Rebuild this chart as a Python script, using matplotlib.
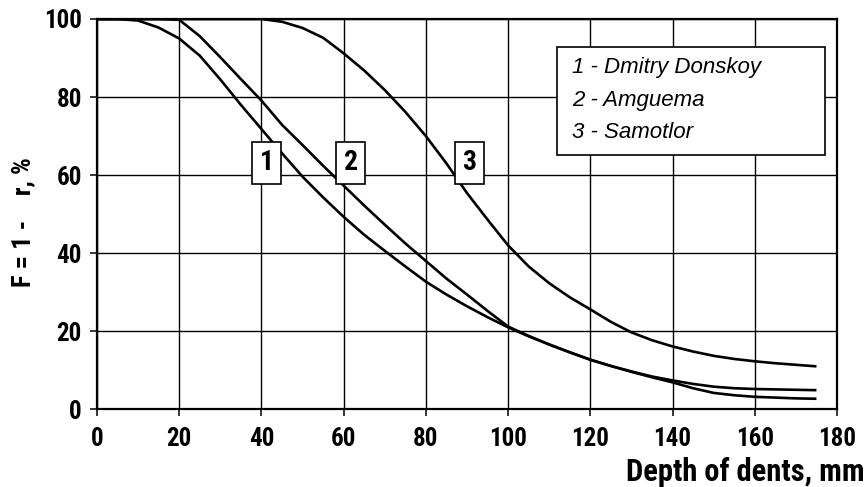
import numpy as np
import matplotlib
matplotlib.use("Agg")
import matplotlib.pyplot as plt
from matplotlib.patches import Rectangle

# depth of dents, mm
depth = [0, 5, 10, 15, 20, 25, 30, 35, 40, 45, 50, 55, 60, 65, 70, 75, 80, 85,
         90, 95, 100, 105, 110, 115, 120, 125, 130, 135, 140, 145, 150, 155,
         160, 165, 170, 175]

# F = 1 - Pr, %  for each vessel
donskoy = [100, 100, 99.6, 97.8, 95, 90.6, 84.5, 78, 71.8, 65.6, 59.6, 54.3,
           49.3, 44.7, 40.6, 36.6, 32.7, 29.4, 26.4, 23.6, 21, 18.7, 16.6, 14.6,
           12.7, 11.1, 9.6, 8.2, 6.9, 5.4, 4.2, 3.6, 3.2, 3.0, 2.8, 2.7]
amguema = [100, 100, 100, 100, 99.8, 95.6, 90.2, 84.6, 79.1, 72.9, 67.7, 62.4,
           57.3, 52.2, 47.3, 42.5, 38, 33.5, 29.4, 25.2, 21.2, 18.8, 16.6, 14.6,
           12.7, 11.1, 9.7, 8.4, 7.4, 6.5, 5.8, 5.4, 5.2, 5.1, 5.0, 4.9]
samotlor = [100, 100, 100, 100, 100, 100, 100, 100, 100, 99.3, 97.7, 95.2,
            91.2, 86.8, 81.8, 76.2, 70.0, 63.0, 55.4, 48.6, 42.0, 36.6, 32.3,
            28.7, 25.6, 22.4, 19.7, 17.7, 16.1, 14.8, 13.7, 12.9, 12.3, 11.8,
            11.4, 11.0]

series = [donskoy, amguema, samotlor]
curve_ids = ["1", "2", "3"]
legend_lines = ["1 - Dmitry Donskoy", "2 - Amguema", "3 - Samotlor"]
# where the curve numbers sit (x, y in data units)
id_pos = [(41.3, 63.2), (61.7, 63.2), (90.5, 63.2)]

xticks = np.arange(0, 181, 20)
yticks = np.arange(0, 101, 20)

bold = ["Roboto Condensed", "Liberation Sans Narrow", "Liberation Sans", "DejaVu Sans"]

fig = plt.figure(figsize=(8.67, 4.87), dpi=100)
ax = fig.add_axes([97 / 867, 1 - 409.3 / 487, 740 / 867, 390.3 / 487])

for vals in series:
    ax.plot(depth, vals, color="black", lw=1.9, zorder=3, solid_capstyle="butt")

ax.set_xlim(0, 180)
ax.set_ylim(0, 100)
ax.set_xticks(xticks)
ax.set_yticks(yticks)
ax.grid(True, color="black", lw=1.0, zorder=1)
ax.set_axisbelow(True)
for s in ax.spines.values():
    s.set_linewidth(1.6)
ax.tick_params(direction="out", length=5, width=1.1, colors="black", pad=6)
ax.tick_params(axis="x", pad=8)
for lab in ax.get_xticklabels() + ax.get_yticklabels():
    lab.set_family(bold)
    lab.set_fontweight("bold")
    lab.set_fontsize(18)

for cid, (px, py) in zip(curve_ids, id_pos):
    ax.text(px, py, cid, ha="center", va="center", fontsize=20,
            fontweight="bold", family=bold, zorder=5,
            bbox=dict(boxstyle="square,pad=0.27", fc="white", ec="black", lw=1.2))

# legend panel
x0, x1 = (557 - 97) / 740, (825 - 97) / 740
y0, y1 = (409.3 - 155) / 390.3, (409.3 - 47) / 390.3
ax.add_patch(Rectangle((x0, y0), x1 - x0, y1 - y0, transform=ax.transAxes,
                       fc="white", ec="black", lw=1.2, zorder=4))
for i, txt in enumerate(legend_lines):
    ax.text((572 - 97) / 740, (409.3 - 67.7 - 32.6 * i) / 390.3, txt,
            transform=ax.transAxes, ha="left", va="center", fontsize=16,
            style="italic", family=["Liberation Sans", "DejaVu Sans"], zorder=5)

fig.text(865 / 867, 1 - 472 / 487, "Depth of dents, mm", ha="right", va="center",
         fontsize=22, fontweight="bold", family=bold)
fig.text(23 / 867, 1 - 222 / 487, "F = 1 -    r, %", rotation=90, ha="center",
         va="center", fontsize=19, fontweight="bold", family=bold)

fig.savefig("out.png", dpi=100)
